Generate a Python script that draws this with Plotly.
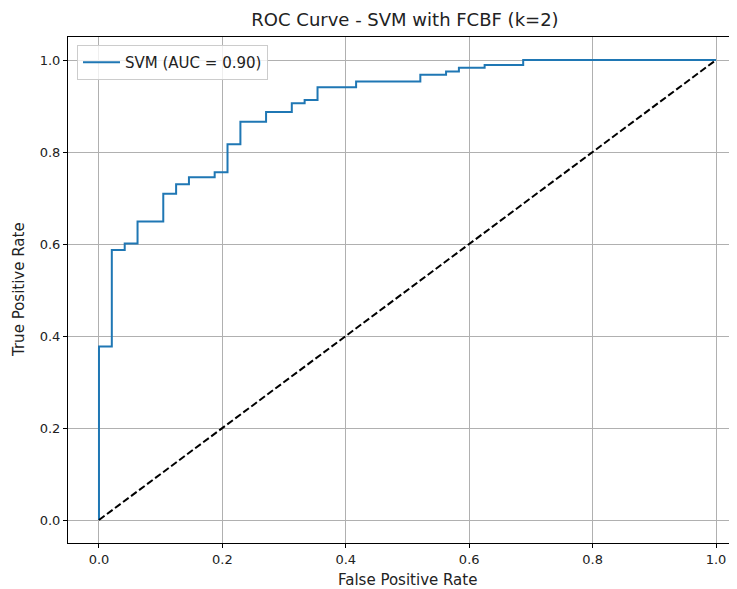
import plotly.graph_objects as go

# ROC data
fpr = [0.0, 0.0, 0.0208, 0.0417, 0.0625, 0.1042, 0.125, 0.1458, 0.1875, 0.2083,
       0.2292, 0.2708, 0.3125, 0.3333, 0.3542, 0.4167, 0.5208, 0.5625, 0.5833,
       0.625, 0.6875, 1.0]
tpr = [0.0, 0.377, 0.587, 0.601, 0.649, 0.709, 0.730, 0.745, 0.756, 0.817,
       0.866, 0.887, 0.906, 0.913, 0.941, 0.953, 0.968, 0.975, 0.983,
       0.989, 1.0, 1.0]
diag_x = [0, 1]
diag_y = [0, 1]
x_ticks = [0.0, 0.2, 0.4, 0.6, 0.8, 1.0]
y_ticks = [0.0, 0.2, 0.4, 0.6, 0.8, 1.0]
tick_text = ["0.0", "0.2", "0.4", "0.6", "0.8", "1.0"]

FONT = "DejaVu Sans"
# page body has an 8px margin; figure occupies the rest of the 737x589 window
OFF = 8
W, H = 737 - OFF, 589 - OFF
L, R, T, B = 68 - OFF, 0, 37 - OFF, 46
PW, PH = W - L - R, H - T - B

fig = go.Figure()
fig.add_trace(go.Scatter(x=fpr, y=tpr, mode="lines", line_shape="hv",
                         line=dict(color="#1f77b4", width=2),
                         name="SVM (AUC = 0.90)"))
fig.add_trace(go.Scatter(x=diag_x, y=diag_y, mode="lines",
                         line=dict(color="black", width=2, dash="7px,3px"),
                         showlegend=False))

axis_common = dict(showline=True, linecolor="black", linewidth=1,
                   showgrid=True, gridcolor="#b0b0b0", gridwidth=1,
                   ticks="outside", ticklen=4, tickcolor="black", automargin=False,
                   zeroline=False, tickfont=dict(family=FONT, size=13, color="#222"))

fig.update_layout(
    width=W, height=H,
    paper_bgcolor="white", plot_bgcolor="white",
    margin=dict(l=L, r=R, t=T, b=B, autoexpand=False),
    title=dict(text="ROC Curve - SVM with FCBF (k=2)", x=(405 - OFF) / W, xanchor="center",
               y=1 - (20 - OFF) / H, yanchor="middle",
               font=dict(family=FONT, size=18, color="#222")),
    xaxis=dict(range=[-0.0502, 1.034], tickvals=x_ticks, ticktext=tick_text,
               mirror=True, **axis_common),
    yaxis=dict(range=[-0.05, 1.05], tickvals=y_ticks, ticktext=tick_text,
               mirror=False, **axis_common),
    legend=dict(x=(77 - 68) / PW, y=1 - (45 - 37) / PH, xanchor="left", yanchor="top",
                bgcolor="rgba(255,255,255,0.8)", bordercolor="#cccccc", borderwidth=1,
                itemwidth=37,
                font=dict(family=FONT, size=15, color="#222")),
    showlegend=True,
    annotations=[
        dict(text="False Positive Rate", xref="paper", yref="paper",
             x=(407 - 68) / PW, y=-(580 - 543) / PH, xanchor="center", yanchor="middle",
             showarrow=False, font=dict(family=FONT, size=15, color="#222")),
        dict(text="True Positive Rate", xref="paper", yref="paper",
             x=-(68 - 19) / PW, y=0.5, xanchor="center", yanchor="middle",
             textangle=-90, showarrow=False, font=dict(family=FONT, size=15, color="#222")),
    ],
)

fig.write_html("out.html")
